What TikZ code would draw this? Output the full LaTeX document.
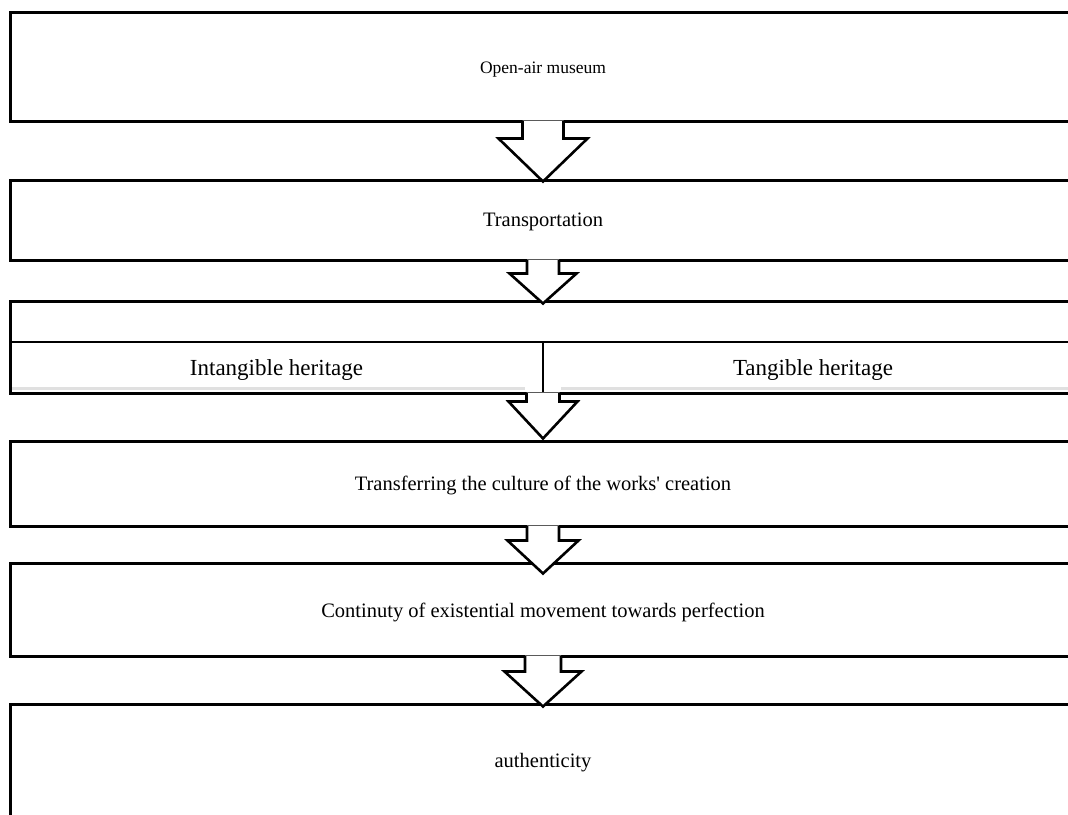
\documentclass[tikz,border=0pt]{standalone}
\usepackage{fontspec}
\setmainfont{Liberation Serif}
\newcommand\hollowarr[5]{%
  \fill[white] (#1) ++(-#2,-2) -- ++(0,#3+2) -- ++(-#4+#2,0) -- ++(#4,#5-#3) -- ++(#4,-#5+#3) -- ++(-#4+#2,0) -- ++(0,-#3-2) -- cycle;
  \draw[arrline] (#1) ++(-#2,0) -- ++(0,#3) -- ++(-#4+#2,0) -- ++(#4,#5-#3) -- ++(#4,-#5+#3) -- ++(-#4+#2,0) -- ++(0,-#3);
}
\newcommand\lowr[2][3pt]{\raisebox{-#1}[\height][\depth]{#2}}
\begin{document}
\begin{tikzpicture}[x=1pt,y=-1pt,
  bigbox/.style={draw=black,line width=3pt,inner sep=0pt,font=\fontsize{20.5}{24}\selectfont},
  subbox/.style={draw=black,line width=1.6pt,inner sep=0pt,font=\fontsize{23}{27}\selectfont},
  strip/.style={fill=black!12},
  arrline/.style={draw=black,line width=2.6pt,line join=miter,line cap=rect}]
\useasboundingbox (0,0) rectangle (1068,814);
\clip (0,0) rectangle (1068,814);
\node[bigbox,minimum width=1066pt,minimum height=109pt,font=\fontsize{17.5}{21}\selectfont] (b1) at (543,66.5) {\lowr{Open-air museum}};
\node[bigbox,minimum width=1066pt,minimum height=80pt] (b2) at (543,220) {\lowr[2pt]{Transportation}};
\node[subbox,minimum width=533pt,minimum height=51pt] (s1) at (276.5,367.5) {\lowr[2pt]{Intangible heritage}};
\node[subbox,minimum width=540pt,minimum height=51pt] (s2) at (813,367.5) {\lowr[2pt]{Tangible heritage}};
\fill[strip] (12,387) rectangle (525,390);
\fill[strip] (561,387) rectangle (1068,390);
\node[bigbox,minimum width=1066pt,minimum height=92pt] (b3) at (543,347) {};
\node[bigbox,minimum width=1066pt,minimum height=85pt] (b4) at (543,483.5) {\lowr[2pt]{Transferring the culture of the works\textquotesingle{} creation}};
\node[bigbox,minimum width=1066pt,minimum height=93pt] (b5) at (543,609.5) {\lowr[2.5pt]{Continuty of existential movement towards perfection}};
\node[bigbox,minimum width=1066pt,minimum height=112pt] (b6) at (543,760) {\lowr[2.5pt]{authenticity}};
\hollowarr{b1.south}{20.5}{16}{44.5}{59}
\hollowarr{b2.south}{16}{12}{33.5}{42}
\hollowarr{b3.south}{16.5}{7}{34.5}{44}
\hollowarr{b4.south}{16}{13}{35.5}{46}
\hollowarr{b5.south}{18}{14}{38.5}{49}
\end{tikzpicture}
\end{document}
